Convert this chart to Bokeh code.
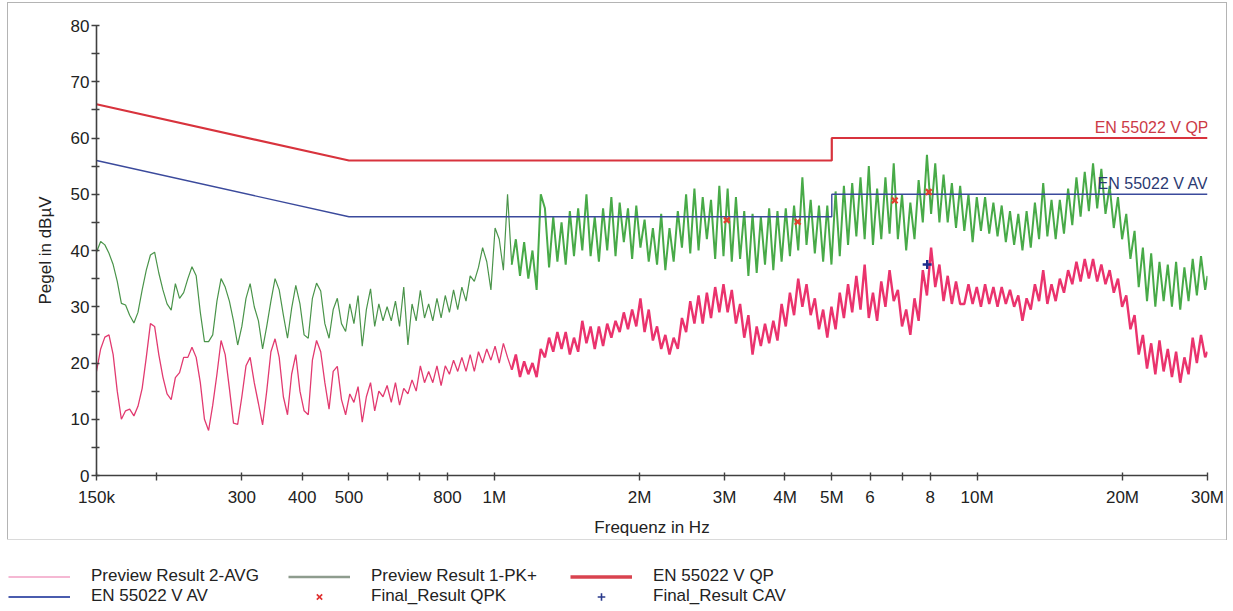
from bokeh.plotting import figure
from bokeh.models import Range1d, FixedTicker, Legend, LegendItem, Label
from bokeh.layouts import column
from bokeh.embed import file_html
from bokeh.resources import INLINE

# ---------------- data ----------------
# sweep frequencies (kHz), shared by both preview traces
FREQ_KHZ = [
    150.0, 153.0, 156.1, 159.2, 162.4, 165.6, 168.9, 172.3, 175.7, 179.3,
    182.8, 186.5, 190.2, 194.0, 197.9, 201.9, 205.9, 210.0, 214.2, 218.5,
    222.9, 227.3, 231.9, 236.5, 241.3, 246.1, 251.0, 256.0, 261.1, 266.4,
    271.7, 277.1, 282.7, 288.3, 294.1, 300.0, 306.0, 312.1, 318.3, 324.7,
    331.2, 337.8, 344.6, 351.5, 358.5, 365.7, 373.0, 380.4, 388.0, 395.8,
    403.7, 411.8, 420.0, 428.4, 437.0, 445.7, 454.7, 463.8, 473.0, 482.5,
    492.1, 502.0, 512.0, 522.2, 532.7, 543.3, 554.2, 565.3, 576.6, 588.1,
    599.8, 611.8, 624.1, 636.5, 649.3, 662.3, 675.5, 689.0, 702.8, 716.9,
    731.2, 745.8, 760.7, 775.9, 791.5, 807.3, 823.4, 839.9, 856.7, 873.8,
    891.3, 909.1, 927.3, 945.8, 964.7, 984.0, 1003.7, 1023.8, 1044.3, 1065.2,
    1086.5, 1108.2, 1130.4, 1153.0, 1176.1, 1199.6, 1223.6, 1248.1, 1273.0, 1298.5,
    1324.5, 1351.0, 1378.0, 1405.6, 1433.7, 1462.3, 1491.6, 1521.4, 1551.8, 1582.9,
    1614.5, 1646.8, 1679.8, 1713.4, 1747.6, 1782.6, 1818.2, 1854.6, 1891.7, 1929.5,
    1968.1, 2007.5, 2047.6, 2088.6, 2130.3, 2172.9, 2216.4, 2260.7, 2305.9, 2352.1,
    2399.1, 2447.1, 2496.0, 2545.9, 2596.9, 2648.8, 2701.8, 2755.8, 2810.9, 2867.1,
    2924.5, 2983.0, 3042.6, 3103.5, 3165.6, 3228.9, 3293.4, 3359.3, 3426.5, 3495.0,
    3564.9, 3636.2, 3709.0, 3783.1, 3858.8, 3936.0, 4014.7, 4095.0, 4176.9, 4260.4,
    4345.6, 4432.5, 4521.2, 4611.6, 4703.8, 4797.9, 4893.9, 4991.8, 5091.6, 5193.4,
    5297.3, 5403.2, 5511.3, 5621.5, 5733.9, 5848.6, 5965.6, 6084.9, 6206.6, 6330.7,
    6457.4, 6586.5, 6718.2, 6852.6, 6989.7, 7129.5, 7272.0, 7417.5, 7565.8, 7717.2,
    7871.5, 8029.0, 8189.5, 8353.3, 8520.4, 8690.8, 8864.6, 9041.9, 9222.7, 9407.2,
    9595.3, 9787.2, 9983.0, 10182.6, 10386.3, 10594.0, 10805.9, 11022.0, 11242.4, 11467.3,
    11696.6, 11930.6, 12169.2, 12412.6, 12660.8, 12914.0, 13172.3, 13435.8, 13704.5, 13978.6,
    14258.1, 14543.3, 14834.2, 15130.9, 15433.5, 15742.1, 16057.0, 16378.1, 16705.7, 17039.8,
    17380.6, 17728.2, 18082.8, 18444.5, 18813.4, 19189.6, 19573.4, 19964.9, 20364.2, 20771.5,
    21186.9, 21610.6, 22042.8, 22483.7, 22933.4, 23392.1, 23859.9, 24337.1, 24823.8, 25320.3,
    25826.7, 26343.2, 26870.1, 27407.5, 27955.6, 28514.8, 29085.1, 29666.8, 30000.0,
]

# Preview Result 1-PK+ (dBuV)
PK_DBUV = [
    39.7, 41.6, 41.0, 39.5, 37.5, 34.5, 30.6, 30.3, 28.5, 27.1,
    29.0, 33.0, 36.5, 39.2, 39.7, 36.0, 33.0, 30.5, 29.4, 34.1,
    31.5, 32.5, 35.0, 37.1, 35.5, 29.0, 23.8, 23.8, 25.0, 31.0,
    35.0, 33.5, 31.0, 27.5, 23.2, 26.5, 31.5, 34.1, 30.0, 27.5,
    22.5, 26.5, 31.0, 35.0, 33.0, 28.5, 24.4, 29.7, 33.8, 30.5,
    25.0, 24.4, 31.5, 34.2, 32.8, 27.0, 24.4, 29.5, 31.5, 27.0,
    25.6, 30.5, 27.0, 32.0, 23.0, 29.5, 33.2, 26.5, 30.5, 27.5,
    30.0, 27.5, 31.0, 26.5, 33.5, 23.2, 30.5, 27.5, 32.9, 28.0,
    30.5, 27.5, 31.5, 28.0, 32.0, 29.0, 33.0, 29.5, 33.5, 31.0,
    35.5, 34.5, 37.0, 40.5, 38.0, 33.0, 44.0, 42.0, 36.5, 50.0,
    37.5, 42.0, 35.5, 41.5, 35.0, 40.0, 33.0, 50.0, 47.5, 37.0,
    46.0, 38.0, 45.0, 37.5, 47.0, 39.0, 47.5, 40.0, 50.0, 39.0,
    46.0, 38.0, 47.5, 40.0, 49.5, 39.0, 48.5, 41.5, 47.5, 38.5,
    48.0, 40.5, 45.5, 38.0, 44.0, 37.5, 46.5, 36.5, 44.0, 38.0,
    47.0, 40.5, 50.0, 39.5, 51.0, 40.0, 49.5, 42.0, 49.0, 38.5,
    51.5, 39.0, 51.0, 38.0, 49.5, 38.5, 47.0, 35.5, 46.5, 36.0,
    46.0, 37.5, 47.5, 36.5, 47.0, 38.0, 47.5, 39.0, 48.0, 40.0,
    53.0, 41.0, 49.0, 39.5, 48.0, 38.0, 48.0, 37.5, 50.5, 39.0,
    51.5, 41.0, 52.0, 42.5, 53.0, 42.0, 55.0, 41.0, 51.0, 42.0,
    53.0, 43.0, 55.5, 42.0, 50.0, 40.0, 48.5, 42.0, 52.5, 45.0,
    57.0, 46.5, 55.5, 45.0, 53.5, 45.0, 52.0, 44.0, 51.5, 43.5,
    50.0, 41.5, 49.5, 43.5, 49.5, 43.0, 48.5, 42.5, 48.0, 41.5,
    47.0, 41.0, 46.5, 40.0, 47.0, 40.5, 48.5, 42.0, 52.0, 42.5,
    49.0, 42.0, 49.0, 43.0, 51.0, 44.5, 53.0, 46.0, 54.0, 47.0,
    55.5, 47.5, 54.5, 46.5, 51.5, 44.0, 49.5, 42.0, 46.5, 38.5,
    43.5, 33.5, 40.5, 31.0, 39.5, 30.0, 38.0, 31.0, 37.5, 30.0,
    38.0, 29.5, 37.0, 31.0, 38.5, 32.0, 39.0, 33.0, 35.5,
]

# Preview Result 2-AVG (dBuV)
AVG_DBUV = [
    18.5, 22.5, 24.6, 25.0, 21.5, 15.0, 10.0, 11.5, 11.8, 10.6,
    12.3, 15.5, 21.0, 27.0, 26.5, 21.5, 17.5, 14.5, 13.5, 17.4,
    18.3, 21.0, 21.0, 22.8, 21.0, 16.5, 10.0, 8.0, 12.5, 18.0,
    24.0, 21.5, 15.5, 9.3, 9.1, 14.0, 19.5, 21.0, 16.5, 12.8,
    9.0, 15.0, 22.0, 24.3, 21.0, 14.0, 10.8, 18.0, 21.5, 15.0,
    11.5, 10.8, 20.5, 24.0, 22.0, 16.5, 11.8, 18.5, 19.4, 13.5,
    10.8, 14.5, 13.0, 15.8, 9.5, 14.0, 16.5, 11.5, 15.0, 14.0,
    16.0, 13.0, 16.5, 12.5, 15.5, 14.5, 17.0, 15.0, 19.5, 16.5,
    18.5, 16.5, 19.5, 16.0, 19.5, 18.0, 20.5, 18.5, 21.0, 18.5,
    21.5, 18.5, 22.0, 20.0, 22.5, 20.5, 23.0, 20.0, 23.5, 21.0,
    18.8, 21.5, 17.5, 20.3, 18.0, 20.0, 17.5, 22.5, 21.0, 24.5,
    22.0, 25.5, 22.5, 25.5, 21.5, 24.5, 22.0, 27.5, 23.5, 26.5,
    22.5, 26.5, 23.0, 27.0, 24.5, 27.5, 25.5, 29.0, 26.0, 29.5,
    26.5, 31.5, 25.5, 29.5, 24.0, 26.5, 22.5, 25.0, 21.5, 24.5,
    22.5, 28.0, 25.5, 31.0, 27.0, 32.0, 27.0, 32.5, 28.0, 33.5,
    29.0, 34.0, 29.0, 33.0, 27.0, 30.5, 24.5, 28.5, 21.5, 26.5,
    23.0, 27.0, 23.5, 27.5, 24.0, 30.5, 26.5, 32.5, 28.5, 35.0,
    30.0, 34.0, 28.5, 31.5, 26.0, 29.5, 24.5, 30.0, 26.0, 32.5,
    28.0, 34.0, 29.0, 35.5, 29.5, 37.5, 28.0, 32.5, 27.5, 34.5,
    30.0, 36.5, 31.0, 33.0, 26.5, 29.5, 25.0, 31.5, 27.5, 36.5,
    32.0, 40.5, 33.5, 37.5, 31.0, 35.5, 30.5, 34.5, 30.5, 30.5,
    34.0, 30.5, 33.5, 30.0, 34.0, 30.5, 33.5, 30.0, 33.5, 30.5,
    33.0, 30.0, 32.0, 27.5, 31.5, 29.5, 34.0, 31.0, 36.5, 30.5,
    34.0, 31.0, 35.0, 32.5, 36.5, 34.0, 38.0, 34.5, 38.5, 35.0,
    38.5, 34.5, 37.5, 34.0, 36.5, 32.5, 35.0, 30.0, 32.0, 26.0,
    28.5, 21.5, 25.0, 19.0, 23.5, 18.0, 24.0, 18.5, 22.5, 17.5,
    22.0, 16.5, 21.0, 18.0, 24.5, 20.0, 25.0, 21.0, 22.0,
]

# EN 55022 limit lines
LIMIT_FREQ_HZ = [150e3, 500e3, 5e6, 5e6, 30e6]
LIMIT_QP = [66, 56, 56, 60, 60]
LIMIT_AV = [56, 46, 46, 50, 50]

# final measurement results
QPK_FREQ_HZ = [3.03e6, 4.25e6, 6.75e6, 7.94e6]
QPK_DBUV = [45.4, 45.1, 48.9, 50.4]
CAV_FREQ_HZ = [7.88e6]
CAV_DBUV = [37.5]

# axes
X_TICKS = [150e3, 200e3, 300e3, 400e3, 500e3, 600e3, 700e3, 800e3, 1e6,
           2e6, 3e6, 4e6, 5e6, 6e6, 7e6, 8e6, 10e6, 20e6, 30e6]
X_TICK_LABELS = ["150k", "", "300", "400", "500", "", "", "800", "1M",
                 "2M", "3M", "4M", "5M", "6", "", "8", "10M", "20M", "30M"]
Y_TICKS = [0, 5, 10, 15, 20, 25, 30, 35, 40, 45, 50, 55, 60, 65, 70, 75, 80]
Y_TICK_LABELS = ["0", "", "10", "", "20", "", "30", "", "40", "", "50", "",
                 "60", "", "70", "", "80"]

FONT = "Liberation Sans"
SPLIT = 101  # sparse low-frequency part / dense sweep part

# ---------------- chart ----------------
freq_hz = [f * 1000.0 for f in FREQ_KHZ]

p = figure(width=1218, height=536, x_axis_type="log",
           x_range=Range1d(150e3, 30e6), y_range=Range1d(0, 80),
           output_backend="svg", toolbar_location=None,
           min_border_left=88, min_border_right=19,
           min_border_top=22, min_border_bottom=62)
p.frame_align = False
p.margin = (3, 0, 0, 8)
p.outline_line_color = None
p.xgrid.visible = False
p.ygrid.visible = False
p.background_fill_color = "white"
p.border_fill_color = "white"
p.styles = {"outline": "1px solid #b4b4b4"}

p.line(freq_hz[:SPLIT], PK_DBUV[:SPLIT], line_color="#4a944a", line_width=1.2)
p.line(freq_hz[SPLIT - 1:], PK_DBUV[SPLIT - 1:], line_color="#48aa48", line_width=2.0)
p.line(freq_hz[:SPLIT], AVG_DBUV[:SPLIT], line_color="#e23a70", line_width=1.3)
p.line(freq_hz[SPLIT - 1:], AVG_DBUV[SPLIT - 1:], line_color="#ea336d", line_width=2.4)
p.line(LIMIT_FREQ_HZ, LIMIT_QP, line_color="#d8333d", line_width=2.2)
p.line(LIMIT_FREQ_HZ, LIMIT_AV, line_color="#3b4a9c", line_width=1.4)
p.scatter(QPK_FREQ_HZ, QPK_DBUV, marker="x", size=8, line_color="#e2402e", line_width=2.4)
p.scatter(CAV_FREQ_HZ, CAV_DBUV, marker="cross", size=9, line_color="#1c2c8c", line_width=2.4)

p.add_layout(Label(x=LIMIT_FREQ_HZ[-1], y=LIMIT_QP[-1], text="EN 55022 V QP",
                   text_align="right", text_baseline="alphabetic", y_offset=11, x_offset=1,
                   text_font=FONT, text_font_size="16px", text_color="#cc3a46"))
p.add_layout(Label(x=LIMIT_FREQ_HZ[-1], y=LIMIT_AV[-1], text="EN 55022 V AV",
                   text_align="right", text_baseline="alphabetic", y_offset=11, x_offset=1,
                   text_font=FONT, text_font_size="16px", text_color="#2b3a72"))

xa = p.xaxis[0]
ya = p.yaxis[0]
xa.ticker = FixedTicker(ticks=X_TICKS, minor_ticks=[])
ya.ticker = FixedTicker(ticks=Y_TICKS, minor_ticks=[])
xa.major_label_overrides = {float(t): lab for t, lab in zip(X_TICKS, X_TICK_LABELS)}
ya.major_label_overrides = {float(t): lab for t, lab in zip(Y_TICKS, Y_TICK_LABELS)}
for ax in (xa, ya):
    ax.axis_line_color = "#404040"
    ax.axis_line_width = 1.6
    ax.major_tick_line_color = "#404040"
    ax.major_tick_line_width = 1.4
    ax.major_tick_in = 3
    ax.major_tick_out = 5
    ax.minor_tick_line_color = None
    ax.major_label_text_font = FONT
    ax.major_label_text_font_size = "17px"
    ax.major_label_text_color = "#222222"
    ax.axis_label_text_font = FONT
    ax.axis_label_text_font_size = "17px"
    ax.axis_label_text_font_style = "normal"
    ax.axis_label_text_color = "#222222"
xa.axis_label = "Frequenz in Hz"
ya.axis_label = "Pegel in dBµV"
xa.major_label_standoff = 7
xa.axis_label_standoff = 8
ya.major_label_standoff = 2
ya.axis_label_standoff = 13

# ---------------- legend strip ----------------
# the legend strip shows proxies of the same series; its ranges keep them off-screen
pl = figure(width=1226, height=71, x_range=Range1d(0, 1), y_range=Range1d(0, 1),
            output_backend="svg", toolbar_location=None, min_border=0,
            min_border_left=0, min_border_right=0, min_border_top=0, min_border_bottom=0,
            x_axis_location=None, y_axis_location=None)
pl.frame_align = False
pl.outline_line_color = None
pl.grid.visible = False

r_avg = pl.line(freq_hz, AVG_DBUV, line_color="#f2a0c4", line_width=1.6)
r_av = pl.line(LIMIT_FREQ_HZ, LIMIT_AV, line_color="#4a5cae", line_width=2.0)
r_pk = pl.line(freq_hz, PK_DBUV, line_color="#8e9c8e", line_width=2.6)
r_qpk = pl.scatter(QPK_FREQ_HZ, QPK_DBUV, marker="x", size=8, line_color="#e03030", line_width=1.6)
r_qp = pl.line(LIMIT_FREQ_HZ, LIMIT_QP, line_color="#d9434f", line_width=3.5)
r_cav = pl.scatter(CAV_FREQ_HZ, CAV_DBUV, marker="cross", size=9, line_color="#2a3a8c", line_width=1.6)


def make_legend(items, x):
    return Legend(items=items, location=(x, 4), orientation="vertical",
                  glyph_width=62, glyph_height=19, label_height=19,
                  label_standoff=21, spacing=0, padding=0, margin=0,
                  border_line_color=None, background_fill_alpha=0,
                  label_text_font=FONT, label_text_font_size="17px",
                  label_text_color="#222222")


pl.add_layout(make_legend([LegendItem(label="Preview Result 2-AVG", renderers=[r_avg]),
                           LegendItem(label="EN 55022 V AV", renderers=[r_av])], 8))
pl.add_layout(make_legend([LegendItem(label="Preview Result 1-PK+", renderers=[r_pk]),
                           LegendItem(label="Final_Result QPK", renderers=[r_qpk])], 288))
pl.add_layout(make_legend([LegendItem(label="EN 55022 V QP", renderers=[r_qp]),
                           LegendItem(label="Final_Result CAV", renderers=[r_cav])], 570))

layout = column(p, pl, spacing=0)
open("out.html", "w").write(file_html(layout, INLINE))
